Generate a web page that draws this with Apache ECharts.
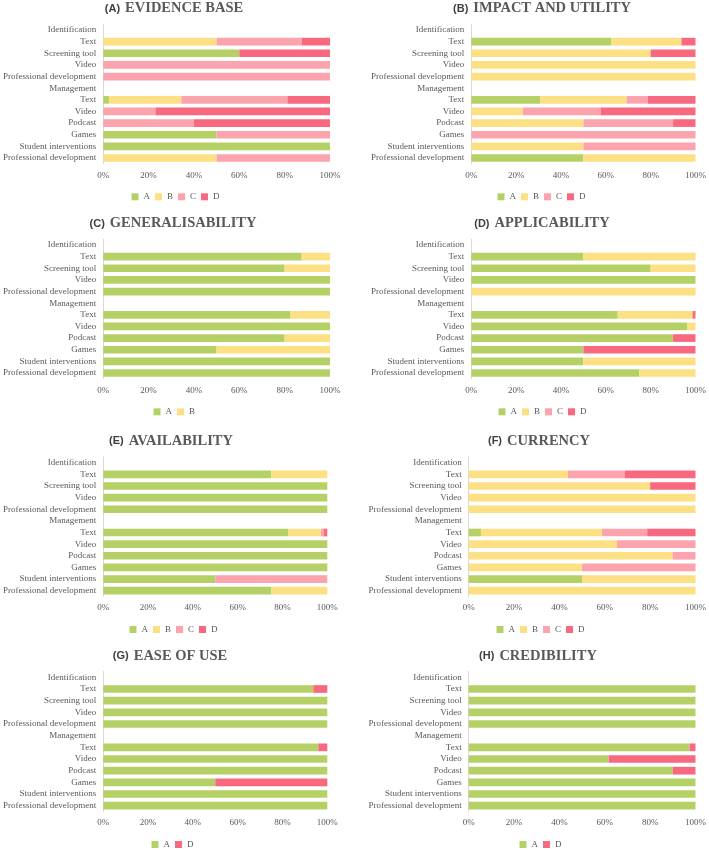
<!DOCTYPE html>
<html>
<head>
<meta charset="utf-8">
<script src="https://cdn.jsdelivr.net/npm/echarts@6/dist/echarts.min.js"></script>
<style>
html,body{margin:0;padding:0;background:#fff;}
#chart{width:709px;height:850px;}
</style>
</head>
<body>
<div id="chart"></div>
<script>
// ---------- DATA ----------
const categories = ['Identification','Text','Screening tool','Video','Professional development','Management','Text','Video','Podcast','Games','Student interventions','Professional development'];
const xTicks = [0, 20, 40, 60, 80, 100];

const panelTitles = [
  ['(A)', 'EVIDENCE BASE'],
  ['(B)', 'IMPACT AND UTILITY'],
  ['(C)', 'GENERALISABILITY'],
  ['(D)', 'APPLICABILITY'],
  ['(E)', 'AVAILABILITY'],
  ['(F)', 'CURRENCY'],
  ['(G)', 'EASE OF USE'],
  ['(H)', 'CREDIBILITY']
];

// (A) Evidence base
const evidenceA = [null, 0, 60, 0, 0, null, 2.5, 0, 0, 50, 100, 0];
const evidenceB = [null, 50, 0, 0, 0, null, 32, 0, 0, 0, 0, 50];
const evidenceC = [null, 37.5, 0, 100, 100, null, 46.7, 23, 40, 50, 0, 50];
const evidenceD = [null, 12.5, 40, 0, 0, null, 18.8, 77, 60, 0, 0, 0];
// (B) Impact and utility
const impactA = [null, 62.5, 0, 0, 0, null, 30.7, 0, 0, 0, 0, 50];
const impactB = [null, 31.25, 80, 100, 100, null, 38.6, 23, 50, 0, 50, 50];
const impactC = [null, 0, 0, 0, 0, null, 9.4, 34.7, 40, 100, 50, 0];
const impactD = [null, 6.25, 20, 0, 0, null, 21.3, 42.3, 10, 0, 0, 0];
// (C) Generalisability
const generalA = [null, 87.5, 80, 100, 100, null, 82.6, 100, 80, 50, 100, 100];
const generalB = [null, 12.5, 20, 0, 0, null, 17.4, 0, 20, 50, 0, 0];
// (D) Applicability
const applicA = [null, 50, 80, 100, 0, null, 65.3, 96.2, 90, 50, 50, 75];
const applicB = [null, 50, 20, 0, 100, null, 33.4, 3.8, 0, 0, 50, 25];
const applicC = [null, 0, 0, 0, 0, null, 0, 0, 0, 0, 0, 0];
const applicD = [null, 0, 0, 0, 0, null, 1.3, 0, 10, 50, 0, 0];
// (E) Availability
const availA = [null, 75, 100, 100, 100, null, 82.7, 100, 100, 100, 50, 75];
const availB = [null, 25, 0, 0, 0, null, 14.5, 0, 0, 0, 0, 25];
const availC = [null, 0, 0, 0, 0, null, 1.3, 0, 0, 0, 50, 0];
const availD = [null, 0, 0, 0, 0, null, 1.5, 0, 0, 0, 0, 0];
// (F) Currency
const currencyA = [null, 0, 0, 0, 0, null, 5.4, 0, 0, 0, 50, 0];
const currencyB = [null, 43.75, 80, 100, 100, null, 53.4, 65.4, 90, 50, 50, 100];
const currencyC = [null, 25, 0, 0, 0, null, 19.9, 34.6, 10, 50, 0, 0];
const currencyD = [null, 31.25, 20, 0, 0, null, 21.3, 0, 0, 0, 0, 0];
// (G) Ease of use
const easeA = [null, 93.75, 100, 100, 100, null, 96, 100, 100, 50, 100, 100];
const easeD = [null, 6.25, 0, 0, 0, null, 4, 0, 0, 50, 0, 0];
// (H) Credibility
const credA = [null, 100, 100, 100, 100, null, 97.4, 61.7, 90, 100, 100, 100];
const credD = [null, 0, 0, 0, 0, null, 2.6, 38.3, 10, 0, 0, 0];

const panelSeries = [
  [['A', evidenceA], ['B', evidenceB], ['C', evidenceC], ['D', evidenceD]],
  [['A', impactA], ['B', impactB], ['C', impactC], ['D', impactD]],
  [['A', generalA], ['B', generalB]],
  [['A', applicA], ['B', applicB], ['C', applicC], ['D', applicD]],
  [['A', availA], ['B', availB], ['C', availC], ['D', availD]],
  [['A', currencyA], ['B', currencyB], ['C', currencyC], ['D', currencyD]],
  [['A', easeA], ['D', easeD]],
  [['A', credA], ['D', credD]]
];

// ---------- STYLE / LAYOUT ----------
const colors = { A: '#b5d166', B: '#fde083', C: '#fca4ad', D: '#f8687f' };
const textGray = '#595959';
const serif = '"Liberation Serif", "Times New Roman", serif';

// grid boxes: left, top, width, height ; title center x ; legend center x
const layout = [
  { left: 103,   top: 24.2,  width: 227,   height: 139.6, tx: 169, lx: 172 },
  { left: 471.3, top: 24.2,  width: 227,   height: 139.6, tx: 537, lx: 538 },
  { left: 103,   top: 239.2, width: 227,   height: 139.6, tx: 168, lx: 170 },
  { left: 471.3, top: 239.2, width: 227,   height: 139.6, tx: 537, lx: 539 },
  { left: 100,   top: 456.9, width: 227.3, height: 139.6, tx: 166, lx: 170 },
  { left: 468.7, top: 456.9, width: 227.3, height: 139.6, tx: 534, lx: 537 },
  { left: 100,   top: 671.5, width: 227.3, height: 140,   tx: 165, lx: 168 },
  { left: 468.7, top: 671.5, width: 227.3, height: 140,   tx: 533, lx: 536 }
];

const grids = [], xAxes = [], yAxes = [], series = [], titles = [], legends = [];

layout.forEach((L, i) => {
  grids.push({ left: L.left, top: L.top, width: L.width, height: L.height, containLabel: false });
  xAxes.push({
    type: 'value', gridIndex: i, min: xTicks[0], max: xTicks[xTicks.length - 1],
    interval: xTicks[1] - xTicks[0],
    axisLine: { show: false }, axisTick: { show: false }, splitLine: { show: false },
    axisLabel: { formatter: '{value}%', color: textGray, fontFamily: serif, fontSize: 9, margin: 7 }
  });
  yAxes.push({
    type: 'category', gridIndex: i, data: categories, inverse: true,
    axisLine: { show: true, lineStyle: { color: '#d9d9d9', width: 1 } },
    axisTick: { show: false }, splitLine: { show: false },
    axisLabel: { color: textGray, fontFamily: serif, fontSize: 9, margin: 7, interval: 0 }
  });
  const names = [];
  panelSeries[i].forEach(([name, values]) => {
    names.push(name);
    series.push({
      type: 'bar', name: name, stack: 'panel' + i,
      xAxisIndex: i, yAxisIndex: i, data: values,
      barCategoryGap: '34%',
      itemStyle: { color: colors[name] },
      emphasis: { disabled: true },
      silent: true
    });
  });
  titles.push({
    text: '{p|' + panelTitles[i][0] + '} {t|' + panelTitles[i][1] + '}',
    left: L.tx, top: L.top - 29.5, textAlign: 'center',
    textStyle: {
      rich: {
        p: { fontFamily: '"Liberation Sans", Arial, sans-serif', fontWeight: 'bold', fontSize: 11, color: '#404040' },
        t: { fontFamily: serif, fontWeight: 'bold', fontSize: 14.5, color: '#595959' }
      }
    }
  });
  const itemW = 7, txtW = 7, gap = 5;
  const total = names.length * (itemW + 5 + txtW) + (names.length - 1) * gap;
  legends.push({
    data: names, orient: 'horizontal',
    left: L.lx - total / 2, top: L.top + L.height + 23.5,
    itemWidth: itemW, itemHeight: itemW, itemGap: gap, icon: 'rect',
    textStyle: { color: textGray, fontFamily: serif, fontSize: 9 },
    selectedMode: false
  });
});

const chart = echarts.init(document.getElementById('chart'), null, { renderer: 'canvas' });
chart.setOption({
  animation: false,
  backgroundColor: '#ffffff',
  title: titles,
  legend: legends,
  grid: grids,
  xAxis: xAxes,
  yAxis: yAxes,
  series: series
});
</script>
</body>
</html>
